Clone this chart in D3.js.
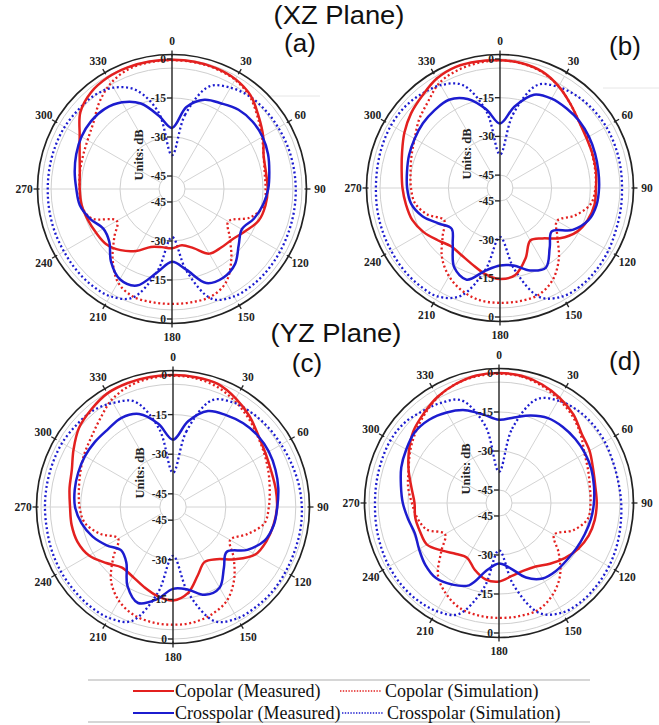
<!DOCTYPE html>
<html>
<head>
<meta charset="utf-8">
<script src="https://cdn.jsdelivr.net/npm/d3@7"></script>
<style>
  body { margin: 0; background: #fff; }
  svg { display: block; }
  .lbl { font-family: "Liberation Serif", "Times New Roman", serif; font-weight: bold; font-size: 11.5px; fill: #222; }
  .ttl { font-family: "Liberation Sans", Arial, sans-serif; font-size: 26px; fill: #111; }
  .leg { font-family: "Liberation Serif", "Times New Roman", serif; font-size: 18px; fill: #111; }
</style>
</head>
<body>
<div id="chart"></div>
<script>
// angles in degrees, 0 at top, clockwise
var angles = [0, 10, 20, 30, 40, 50, 60, 70, 80, 90, 100, 110, 120, 130, 140, 150, 160, 170,
              180, 190, 200, 210, 220, 230, 240, 250, 260, 270, 280, 290, 300, 310, 320, 330, 340, 350];
var angleTicks = [0, 30, 60, 90, 120, 150, 180, 210, 240, 270, 300, 330];
var radialTicks = [0, -15, -30, -45];

// (a) XZ plane
var aCopMeas = [-0.3, -0.3, -0.5, -1.2, -3, -6.5, -9.5, -12.5, -13.3, -13.2, -13.5, -14.5, -17.5, -19.8, -20.6, -21.3, -25.8, -28,
                -27.2, -27.3, -26.3, -22.5, -19.3, -17, -16.3, -15.5, -14.7, -14.5, -14, -12.2, -9, -4, -1.5, -0.5, -0.2, -0.2];
var aCopSim = [-0.5, -0.5, -0.8, -1.5, -3.5, -7, -10, -12.5, -13.8, -14, -14, -18, -25, -21, -14.5, -8.5, -6, -5.8,
               -5.8, -5.8, -6, -8.5, -14.5, -21, -25.5, -17, -14.5, -14.5, -14, -13.5, -12.5, -10.5, -6.5, -3, -1, -0.5];
var aCrossMeas = [-26.5, -18, -13.5, -12, -10.2, -9.6, -9.8, -10.7, -12, -13, -14.5, -16.5, -19, -16.5, -12.3, -10.6, -11.5, -18.5,
                  -22, -17.5, -10.5, -9.9, -13.5, -18.5, -19.5, -16.5, -14, -13.2, -12, -10.8, -9.8, -9.4, -9.8, -11.5, -15, -21.5];
var aCrossSim = [-37, -21, -8, -5, -3.5, -3, -2.8, -2.6, -2.5, -2.4, -2.3, -2.2, -2, -1.8, -1.8, -2.3, -5, -18,
                 -31.5, -18, -5.5, -2.4, -1.8, -1.8, -2, -2, -2.1, -2.2, -2.2, -2.2, -2.3, -2.8, -3.2, -5, -9.5, -20];

// (b) XZ plane
var bCopMeas = [-0.5, -0.9, -2, -4.5, -7.5, -10, -11.3, -11.8, -12.2, -12.8, -12.8, -13.8, -15.8, -19.7, -24.5, -26.5, -21, -15.8,
                -14.7, -16.2, -18.5, -20, -20.5, -18.5, -15.8, -13.8, -13, -12.2, -11.3, -9.6, -7.2, -5, -3.2, -1, 0, -0.2];
var bCopSim = [-0.5, -1, -2.2, -4.5, -7.5, -10, -11, -12, -12.5, -13, -14.3, -19, -24.5, -21, -14.5, -9, -6, -5.5,
               -5.5, -5.8, -7.5, -10.5, -15, -21, -25, -20, -16.5, -15.5, -14.8, -13.5, -11.8, -9, -6.5, -3, -1.5, -0.8];
var bCrossMeas = [-25, -18, -11.5, -10, -9.8, -9.8, -10.2, -10.8, -11.3, -11.6, -12, -13.5, -17.5, -23.8, -20, -14.4, -16, -19.5,
                  -20, -17.5, -12.2, -14.5, -21.5, -25.5, -22.5, -18, -15, -14, -13.4, -12.5, -11.8, -11, -10.6, -10.5, -13.3, -19];
var bCrossSim = [-37, -21, -7.5, -4.8, -3.5, -2.8, -2.5, -2.5, -2.6, -2.7, -2.5, -2.2, -1.5, -1, -0.8, -1.5, -5, -18,
                 -31, -18, -5.5, -1.5, -1, -1, -1.3, -1.5, -1.7, -1.9, -1.8, -1.5, -1.3, -1.5, -2.5, -4, -7.5, -20];

// (c) YZ plane
var cCopMeas = [0, -0.1, -0.4, -2.5, -5, -7.8, -9.5, -10.4, -10.5, -10.6, -11.3, -12.3, -14, -19.2, -24.2, -26, -22.5, -17,
                -14.6, -15.8, -17.8, -19.5, -20, -17, -13.3, -11.5, -11, -11, -10.2, -9.2, -6.5, -3.5, -1.8, -0.3, 0, 0];
var cCopSim = [-0.3, -0.5, -1.5, -3.5, -5.8, -8.2, -10, -11.5, -12.8, -13.7, -14.8, -20, -25, -20, -14, -9.1, -6.8, -5.6,
               -5.4, -5.6, -6.5, -9, -13.5, -20.5, -26, -20.5, -16, -14.6, -13.8, -12.6, -11, -9.4, -6.8, -3.3, -1.3, -0.5];
var cCrossMeas = [-24.5, -17, -11.3, -9.8, -8.6, -8, -8.1, -8.7, -9.5, -10.5, -11.2, -13, -17.5, -23.5, -20, -14.7, -14.6, -18.3,
                  -19, -14.5, -11.3, -15.5, -22.5, -24.4, -21, -17.5, -14.8, -12.9, -12.2, -11.8, -11.5, -11.5, -11.6, -11, -12.5, -18];
var cCrossSim = [-37, -21, -7, -4.3, -3.5, -3, -2.7, -2.2, -1.6, -1.2, -1, -1, -0.8, -0.6, -0.8, -1.3, -4, -17,
                 -31.5, -17, -4, -1.5, -1, -1, -1, -1.2, -1.5, -1.5, -1.5, -1.5, -1.5, -2, -2.5, -4.5, -7.5, -20];

// (d) YZ plane
var dCopMeas = [0, -0.3, -1.5, -3.3, -5.5, -8.5, -9.8, -11.5, -12.4, -12.4, -12.6, -13.3, -14.8, -17, -19.5, -21.8, -22.3, -21.5,
                -19.8, -20.2, -22.7, -25.6, -24.4, -21.5, -18, -17.7, -17.3, -17.5, -15.8, -13, -10, -7, -5, -2.8, -1.3, -0.2];
var dCopSim = [-0.3, -0.6, -2, -4, -6.2, -9, -12, -13.5, -14.5, -14.8, -15.3, -19.5, -25.5, -20, -13.5, -9, -6.2, -5.8,
               -5.8, -6, -6.8, -9.5, -13.5, -21, -26, -20.3, -18, -16.5, -14.5, -13, -10.5, -8, -5.5, -3, -1.3, -0.5];
var dCrossMeas = [-18, -16.6, -14.2, -12.3, -11.8, -11.7, -11.8, -12.2, -12.9, -13.5, -14.1, -14.9, -15.5, -15.9, -15.9, -16.5, -19.5, -24.5,
                  -26.7, -23.8, -16.3, -13.8, -12.3, -13, -14.5, -15.6, -14.5, -13, -11.7, -10, -8.8, -7.7, -8.2, -9.8, -12, -15.5];
var dCrossSim = [-38, -21, -7.5, -4.5, -3.3, -2.9, -3, -3.4, -3.4, -3, -2.5, -1.8, -1.2, -0.8, -0.6, -1.3, -5, -18,
                 -31.8, -17, -4.5, -2, -1.2, -1, -1.2, -1.6, -2, -2.3, -2.2, -2, -1.8, -2.3, -4, -5.5, -8, -20];

var RED = '#e3201f';
var BLUE = '#1c1ccf';

var panels = [
    { cx: 172, cy: 189, R: 130, tag: '(a)', tx: 300, ty: 52, copMeas: aCopMeas, copSim: aCopSim, crossMeas: aCrossMeas, crossSim: aCrossSim },
    { cx: 500, cy: 188, R: 129, tag: '(b)', tx: 625, ty: 55, copMeas: bCopMeas, copSim: bCopSim, crossMeas: bCrossMeas, crossSim: bCrossSim },
    { cx: 173, cy: 507, R: 132, tag: '(c)', tx: 307, ty: 372, copMeas: cCopMeas, copSim: cCopSim, crossMeas: cCrossMeas, crossSim: cCrossSim },
    { cx: 499, cy: 503, R: 130, tag: '(d)', tx: 625, ty: 370, copMeas: dCopMeas, copSim: dCopSim, crossMeas: dCrossMeas, crossSim: dCrossSim }
];

var svg = d3.select('#chart').append('svg')
    .attr('width', 659)
    .attr('height', 725);

// faint stray lines from the source figure
svg.append('line').attr('x1', 268).attr('x2', 320).attr('y1', 96).attr('y2', 96)
    .attr('stroke', '#e6e6e6').attr('stroke-width', 1);
svg.append('line').attr('x1', 603).attr('x2', 659).attr('y1', 88).attr('y2', 88)
    .attr('stroke', '#e6e6e6').attr('stroke-width', 1);

function drawPanel(p) {
    var g = svg.append('g').attr('transform', 'translate(' + p.cx + ',' + p.cy + ')');
    var r = d3.scaleLinear().domain([-50, 0]).range([0, p.R]);
    var frame = p.R + 4.5;
    var rad = function(a) { return a * Math.PI / 180; };

    // grid rings
    radialTicks.concat([-3.5]).forEach(function(v) {
        g.append('circle').attr('r', r(v))
            .attr('fill', 'none').attr('stroke', '#cfcfcf').attr('stroke-width', 1);
    });

    // spokes
    angleTicks.forEach(function(a) {
        if (a === 0 || a === 180) { return; }
        g.append('line')
            .attr('x1', Math.sin(rad(a)) * r(-45)).attr('y1', -Math.cos(rad(a)) * r(-45))
            .attr('x2', Math.sin(rad(a)) * r(0)).attr('y2', -Math.cos(rad(a)) * r(0))
            .attr('stroke', '#d4d4d4').attr('stroke-width', 1);
    });

    // outer frame
    g.append('circle').attr('r', frame)
        .attr('fill', 'none').attr('stroke', '#222').attr('stroke-width', 1.7);

    // angular ticks + labels
    angleTicks.forEach(function(a) {
        var s = Math.sin(rad(a)), c = -Math.cos(rad(a));
        g.append('line')
            .attr('x1', s * (frame - 2)).attr('y1', c * (frame - 2))
            .attr('x2', s * (frame + 4)).attr('y2', c * (frame + 4))
            .attr('stroke', '#222').attr('stroke-width', 1.3);
        g.append('text').attr('class', 'lbl')
            .attr('x', s * (p.R + 18)).attr('y', c * (p.R + 18))
            .attr('text-anchor', 'middle').attr('dy', '0.35em')
            .text(a);
    });

    // series
    var line = d3.lineRadial()
        .angle(function(d, i) { return rad(angles[i]); })
        .radius(function(d) { return r(d); })
        .curve(d3.curveCatmullRomClosed.alpha(0.5));

    g.append('path').datum(p.copSim).attr('d', line)
        .attr('fill', 'none').attr('stroke', RED).attr('stroke-width', 2.3)
        .attr('stroke-dasharray', '2 2.6');
    g.append('path').datum(p.crossSim).attr('d', line)
        .attr('fill', 'none').attr('stroke', BLUE).attr('stroke-width', 2.3)
        .attr('stroke-dasharray', '2 2.6');
    g.append('path').datum(p.copMeas).attr('d', line)
        .attr('fill', 'none').attr('stroke', RED).attr('stroke-width', 2.5);
    g.append('path').datum(p.crossMeas).attr('d', line)
        .attr('fill', 'none').attr('stroke', BLUE).attr('stroke-width', 2.5);

    // radial axis (vertical)
    g.append('line').attr('x1', 0).attr('x2', 0).attr('y1', -frame).attr('y2', frame)
        .attr('stroke', '#222').attr('stroke-width', 1.4);
    [-1, 1].forEach(function(sign) {
        radialTicks.forEach(function(v) {
            var y = sign * r(v);
            g.append('line').attr('x1', -5).attr('x2', 0).attr('y1', y).attr('y2', y)
                .attr('stroke', '#222').attr('stroke-width', 1.3);
            g.append('text').attr('class', 'lbl')
                .attr('x', -6).attr('y', y).attr('dy', '0.35em')
                .attr('text-anchor', 'end')
                .text(v);
        });
    });

    g.append('text').attr('class', 'lbl')
        .attr('transform', 'translate(-33,-34) rotate(-90)')
        .attr('text-anchor', 'middle').attr('dy', '0.35em')
        .style('font-size', '12.5px')
        .text('Units: dB');

    svg.append('text').attr('class', 'ttl')
        .attr('x', p.tx).attr('y', p.ty).attr('text-anchor', 'middle')
        .text(p.tag);
}

panels.forEach(drawPanel);

// plane titles
svg.append('text').attr('class', 'ttl').attr('x', 339).attr('y', 24)
    .attr('text-anchor', 'middle').attr('textLength', 131).attr('lengthAdjust', 'spacingAndGlyphs')
    .text('(XZ Plane)');
svg.append('text').attr('class', 'ttl').attr('x', 336).attr('y', 342)
    .attr('text-anchor', 'middle').attr('textLength', 131).attr('lengthAdjust', 'spacingAndGlyphs')
    .text('(YZ Plane)');

// legend
var legendItems = [
    { label: 'Copolar (Measured)', color: RED, dash: null, x: 133, y: 691, tx: 175 },
    { label: 'Copolar (Simulation)', color: RED, dash: '1.4 1.4', x: 340, y: 691, tx: 385 },
    { label: 'Crosspolar (Measured)', color: BLUE, dash: null, x: 133, y: 713, tx: 175 },
    { label: 'Crosspolar (Simulation)', color: BLUE, dash: '1.4 1.4', x: 342, y: 713, tx: 387 }
];
svg.append('line').attr('x1', 88).attr('x2', 590).attr('y1', 680).attr('y2', 680)
    .attr('stroke', '#c8c8c8').attr('stroke-width', 1.5);
svg.append('line').attr('x1', 88).attr('x2', 590).attr('y1', 722).attr('y2', 722)
    .attr('stroke', '#c8c8c8').attr('stroke-width', 1.5);
legendItems.forEach(function(d) {
    svg.append('line').attr('x1', d.x).attr('x2', d.x + 41).attr('y1', d.y).attr('y2', d.y)
        .attr('stroke', d.color).attr('stroke-width', d.dash ? 1.5 : 2.2)
        .attr('stroke-dasharray', d.dash);
    svg.append('text').attr('class', 'leg')
        .attr('x', d.tx).attr('y', d.y + 5.5)
        .text(d.label);
});
</script>
</body>
</html>
